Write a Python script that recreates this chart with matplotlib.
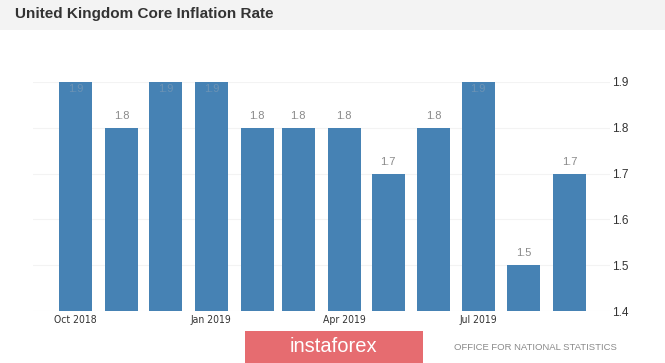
import matplotlib
matplotlib.use("Agg")
import matplotlib.pyplot as plt
import matplotlib.dates as mdates
from matplotlib.patches import Rectangle
from datetime import date

months = [date(2018,10,1),date(2018,11,1),date(2018,12,1),date(2019,1,1),date(2019,2,1),date(2019,3,1),
          date(2019,4,1),date(2019,5,1),date(2019,6,1),date(2019,7,1),date(2019,8,1),date(2019,9,1)]
values = [1.9,1.8,1.9,1.9,1.8,1.8,1.8,1.7,1.8,1.9,1.5,1.7]
yticks = [1.4,1.5,1.6,1.7,1.8,1.9]
xtick_dates = [date(2018,10,1),date(2019,1,1),date(2019,4,1),date(2019,7,1)]
xtick_labels = ["Oct 2018","Jan 2019","Apr 2019","Jul 2019"]

W, H = 665, 363
plt.rcParams['font.family'] = ['Liberation Sans', 'DejaVu Sans']
fig = plt.figure(figsize=(W/100, H/100), dpi=100, facecolor='white')

# axes box in pixels
L, R, T, B = 33, 610, 82, 311
ax = fig.add_axes([L/W, 1-B/H, (R-L)/W, (B-T)/H])
x = mdates.date2num(months)
ppd = (569.5-75.8)/335
ax.set_xlim(x[0]-(75.8-L)/ppd, x[0]+(R-75.8)/ppd)
ax.set_ylim(1.4, 1.9)
ax.bar(x, [v-1.4 for v in values], bottom=1.4, width=33/ppd, color='#4682b4', zorder=2)
for xi, v in zip(x, values):
    if v >= 1.9:
        ax.annotate(f"{v}", (xi, v), xytext=(0, -5), textcoords='offset points', ha='center', va='center',
                    fontsize=8, color='#6c93b5', zorder=3)
    else:
        ax.annotate(f"{v}", (xi, v), xytext=(0, 8.5), textcoords='offset points', ha='center', va='center',
                    fontsize=8, color='#8a8a8a', zorder=3)

for s in ax.spines.values():
    s.set_visible(False)
ax.set_yticks(yticks)
ax.set_yticklabels([f"{t}" for t in yticks], fontsize=8.5, color='#333333')
ax.yaxis.tick_right()
ax.tick_params(axis='y', length=0, pad=1.5)
ax.set_xticks(mdates.date2num(xtick_dates))
ax.set_xticklabels(xtick_labels, fontsize=7.5, color='#333333', family=['DejaVu Sans'], stretch='condensed')
ax.tick_params(axis='x', length=0, pad=3)
ax.grid(axis='y', color='#f3f3f3', lw=0.8, zorder=0)
ax.set_axisbelow(True)

# header band
fig.add_artist(Rectangle((0, 1-30/H), 1, 30/H, transform=fig.transFigure, facecolor='#f3f3f3', edgecolor='none'))
fig.text(15/W, 1-14/H, "United Kingdom Core Inflation Rate", fontsize=11, fontweight='bold',
         color='#333333', va='center', ha='left')

# logo and source
fig.add_artist(Rectangle((245/W, 0), 178/W, 32/H, transform=fig.transFigure, facecolor='#e66c70', edgecolor='none'))
fig.text(333/W, 1-347/H, "instaforex", fontsize=14.5, color='white', ha='center', va='center')
fig.text(617/W, 1-347/H, "OFFICE FOR NATIONAL STATISTICS", fontsize=6.8, color='#8a8a8a', ha='right', va='center')

fig.savefig("out.png", dpi=100, facecolor='white')
